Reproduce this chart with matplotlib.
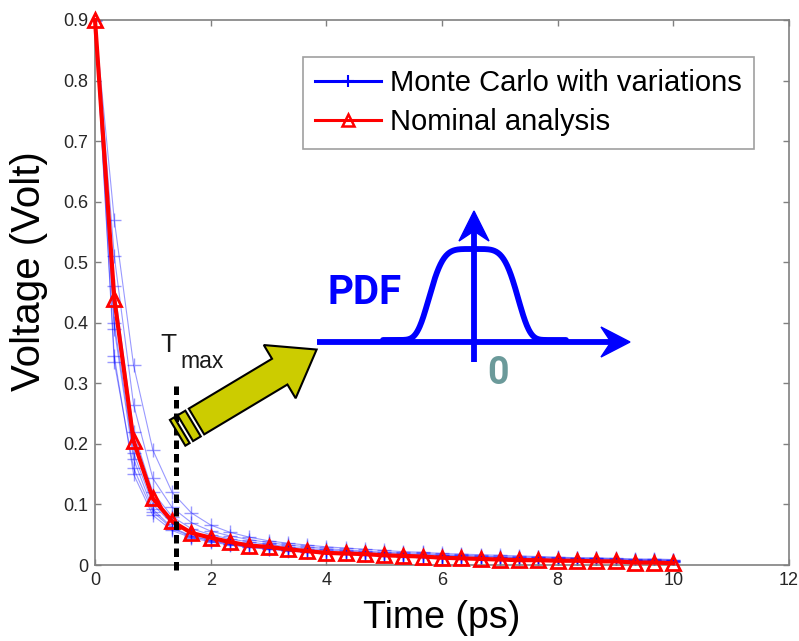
import numpy as np
import matplotlib
matplotlib.use('Agg')
import matplotlib.pyplot as plt
from matplotlib.lines import Line2D
from matplotlib.patches import Polygon
from matplotlib import font_manager

plt.rcParams['font.family'] = ['Liberation Sans', 'DejaVu Sans']

# time grid of the transient (ps), one sample every 1/3 ps
time_ps = np.linspace(0, 10, 31)

# nominal analysis (Volt)
nominal = [0.900, 0.440, 0.205, 0.110, 0.072, 0.053, 0.045, 0.038, 0.032, 0.030, 0.026,
           0.023, 0.020, 0.019, 0.018, 0.016, 0.015, 0.014, 0.012, 0.011, 0.010, 0.009,
           0.008, 0.008, 0.007, 0.007, 0.006, 0.006, 0.004, 0.004, 0.003]

# Monte Carlo runs with process variations (Volt)
mc_runs = [
    [0.900, 0.570, 0.330, 0.190, 0.120, 0.086, 0.066, 0.054, 0.046, 0.040, 0.036,
     0.033, 0.030, 0.028, 0.026, 0.024, 0.022, 0.021, 0.019, 0.018, 0.017, 0.016,
     0.015, 0.014, 0.013, 0.012, 0.012, 0.011, 0.010, 0.010, 0.009],
    [0.900, 0.510, 0.265, 0.143, 0.095, 0.070, 0.056, 0.048, 0.042, 0.037, 0.033,
     0.030, 0.027, 0.025, 0.023, 0.021, 0.020, 0.019, 0.017, 0.016, 0.015, 0.014,
     0.013, 0.013, 0.012, 0.011, 0.011, 0.010, 0.009, 0.009, 0.008],
    [0.900, 0.460, 0.220, 0.120, 0.080, 0.060, 0.050, 0.043, 0.038, 0.034, 0.030,
     0.027, 0.025, 0.023, 0.021, 0.019, 0.018, 0.017, 0.016, 0.015, 0.014, 0.013,
     0.012, 0.011, 0.011, 0.010, 0.010, 0.009, 0.008, 0.008, 0.007],
    [0.900, 0.400, 0.185, 0.100, 0.068, 0.052, 0.044, 0.038, 0.034, 0.030, 0.027,
     0.024, 0.022, 0.020, 0.019, 0.017, 0.016, 0.015, 0.014, 0.013, 0.012, 0.011,
     0.011, 0.010, 0.009, 0.009, 0.008, 0.008, 0.007, 0.007, 0.006],
    [0.900, 0.390, 0.175, 0.092, 0.062, 0.048, 0.041, 0.035, 0.031, 0.028, 0.025,
     0.023, 0.021, 0.019, 0.018, 0.016, 0.015, 0.014, 0.013, 0.012, 0.011, 0.011,
     0.010, 0.009, 0.009, 0.008, 0.008, 0.007, 0.007, 0.006, 0.006],
    [0.900, 0.345, 0.150, 0.082, 0.057, 0.045, 0.038, 0.033, 0.029, 0.026, 0.023,
     0.021, 0.019, 0.018, 0.016, 0.015, 0.014, 0.013, 0.012, 0.011, 0.010, 0.010,
     0.009, 0.008, 0.008, 0.007, 0.007, 0.006, 0.006, 0.005, 0.005],
    [0.900, 0.335, 0.160, 0.088, 0.060, 0.047, 0.040, 0.034, 0.030, 0.027, 0.024,
     0.022, 0.020, 0.018, 0.017, 0.016, 0.015, 0.014, 0.013, 0.012, 0.011, 0.010,
     0.010, 0.009, 0.008, 0.008, 0.007, 0.007, 0.006, 0.006, 0.005],
]

x_ticks = [0, 2, 4, 6, 8, 10, 12]
y_ticks = [0, 0.1, 0.2, 0.3, 0.4, 0.5, 0.6, 0.7, 0.8, 0.9]
y_ticklabels = ['0', '0.1', '0.2', '0.3', '0.4', '0.5', '0.6', '0.7', '0.8', '0.9']
legend_labels = ['Monte Carlo with variations', 'Nominal analysis']

t_max = 1.4
t_max_top = 0.303

# pick a narrow font for the PDF sketch if one is there
names = {f.name for f in font_manager.fontManager.ttflist}
narrow = 'Liberation Sans Narrow' if 'Liberation Sans Narrow' in names else 'Roboto'

fig = plt.figure(figsize=(7.99, 6.41), dpi=100)
ax = fig.add_axes([95 / 799, 76 / 641, 694 / 799, 545 / 641])

for run in mc_runs:
    ax.plot(time_ps, run, color='blue', lw=0.8, alpha=0.4, marker='+', ms=10, mew=1.0)

ax.plot(time_ps, nominal, color='red', lw=3, marker='^', ms=10.5, mfc='none', mec='red',
        mew=2, clip_on=False, zorder=5)

# T_max marker
ax.plot([t_max, t_max], [-0.008, t_max_top], color='black', lw=3.6, dashes=(1.7, 1.0),
        clip_on=False, zorder=6)

ax.set_xlim(0, 12)
ax.set_ylim(0, 0.9)
ax.set_xticks(x_ticks)
ax.set_yticks(y_ticks)
ax.set_yticklabels(y_ticklabels)
ax.tick_params(direction='in', length=4, width=1, color='#808080', labelsize=13,
               labelcolor='#262626', top=True, right=True, pad=5)
for s in ax.spines.values():
    s.set_color('#808080')
    s.set_linewidth(1.2)

ax.set_xlabel('Time (ps)', fontsize=27)
ax.set_ylabel('Voltage (Volt)', fontsize=29)
ax.xaxis.set_label_coords(0.5, -0.097)
ax.xaxis.label.set_va('center')
ax.yaxis.set_label_coords(-0.095, 0.54)
ax.yaxis.label.set_va('center')

handles = [Line2D([], [], color='blue', lw=2.2, marker='+', ms=9, mew=1.5),
           Line2D([], [], color='red', lw=2.2, marker='^', ms=8, mfc='none', mew=1.8)]
leg = ax.legend(handles, legend_labels, loc='upper left',
                bbox_to_anchor=(303 / 799, 1 - 57 / 641), bbox_transform=fig.transFigure,
                fontsize=21, frameon=True, fancybox=False, framealpha=1, edgecolor='#a0a0a0',
                handlelength=2.25, handletextpad=0.3, labelspacing=0.38, borderpad=0.42,
                borderaxespad=0)
leg.get_frame().set_linewidth(1.2)

# overlay in pixel units for the sketch
ov = fig.add_axes([0, 0, 1, 1], zorder=10)
ov.set_xlim(0, 799)
ov.set_ylim(641, 0)
ov.axis('off')
ov.patch.set_alpha(0)

# yellow block arrow
u = np.array([0.858, -0.514])
n = np.array([0.514, 0.858])
base = np.array([196.5, 421.5])
half_w = 15
head_w = 31
shaft_len = 97
head_len = 43


def pt(a, b):
    return base + a * u + b * n


arrow = [pt(0, -half_w), pt(shaft_len, -half_w), pt(shaft_len, -head_w),
         pt(shaft_len + head_len, 0), pt(shaft_len, head_w), pt(shaft_len, half_w),
         pt(0, half_w)]
ov.add_patch(Polygon(arrow, closed=True, fc='#cccc00', ec='black', lw=1.5))
for a0, a1 in [(-13, -4), (-22, -17)]:
    strip = [pt(a0, -half_w), pt(a1, -half_w), pt(a1, half_w), pt(a0, half_w)]
    ov.add_patch(Polygon(strip, closed=True, fc='#cccc00', ec='black', lw=1.5))

# PDF sketch
ov.plot([317, 612], [342, 342], color='blue', lw=4.2, solid_capstyle='butt')
ov.add_patch(Polygon([(630, 342), (601, 327), (611, 342), (601, 357)], closed=True,
                     fc='blue', ec='blue', lw=1))
ov.plot([474, 474], [362, 228], color='blue', lw=4.2, solid_capstyle='butt')
ov.add_patch(Polygon([(474, 211), (459, 241), (474, 231), (489, 241)], closed=True,
                     fc='blue', ec='blue', lw=1))
bx = np.linspace(383, 566, 300)
by = 340 - 91 * np.exp(-(np.abs(bx - 473.5) / 47) ** 4.8)
ov.plot(bx, by, color='blue', lw=4.2, solid_capstyle='round')

ov.text(365, 293, 'PDF', color='blue', fontsize=29, fontweight='bold', family=narrow,
        ha='center', va='center')
ov.text(498, 374, '0', color='#6b9a9a', fontsize=27, fontweight='bold', family=narrow,
        ha='center', va='center')

ov.text(160, 352, 'T', fontsize=19, color='#1a1a1a', ha='left', va='baseline')
ov.text(180, 368, 'max', fontsize=16.5, color='#1a1a1a', ha='left', va='baseline')

fig.savefig('out.png', dpi=100)
